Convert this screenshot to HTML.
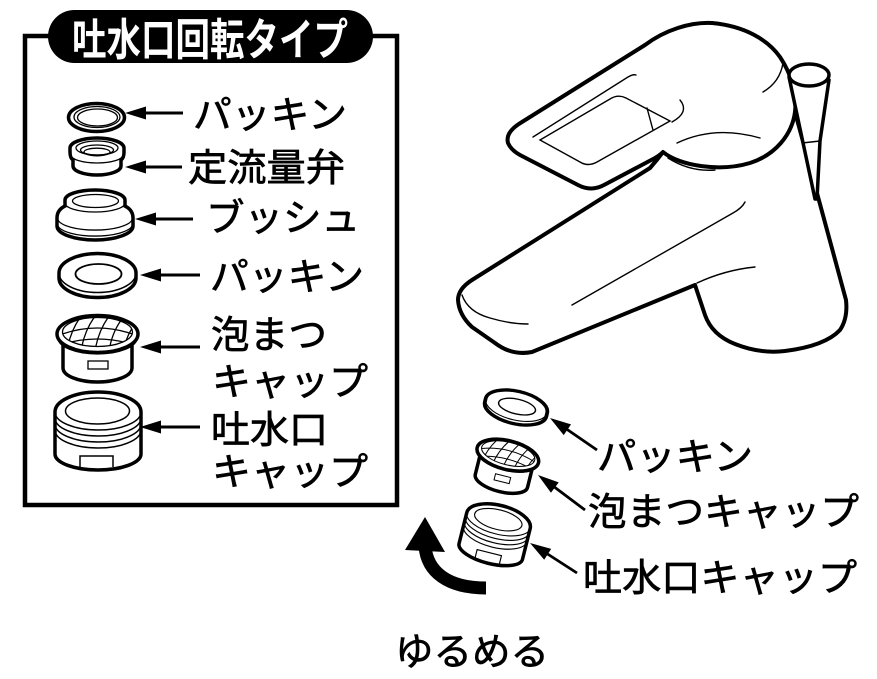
<!DOCTYPE html>
<html><head><meta charset="utf-8"><style>
html,body{margin:0;padding:0;background:#fff}
svg{display:block}
.t{font-family:"Liberation Sans","Noto Sans CJK JP",sans-serif;font-size:38px;font-weight:400;fill:#000;stroke:#000;stroke-width:0.7px}
.ttl{font-family:"Liberation Sans","Noto Sans CJK JP",sans-serif;font-size:44px;font-weight:700;fill:#fff}
</style></head><body>
<svg width="877" height="679" viewBox="0 0 877 679" xmlns="http://www.w3.org/2000/svg">
<defs>
  <clipPath id="meshclip"><ellipse cx="97.5" cy="332" rx="35" ry="14.5"/></clipPath>
  <g id="foam">
    <path d="M63,342 L63,368 A34.5,14 0 0 0 132,368 L132,342" fill="#fff" stroke="#000"/>
    <ellipse cx="97.5" cy="334" rx="40.5" ry="18.5" fill="#fff" stroke="#000"/>
    <path d="M58,338 A39.5,16 0 0 0 137,338" fill="none" stroke="#000" stroke-width="1.3"/>
    <ellipse cx="97.5" cy="332" rx="35" ry="14.5" fill="none" stroke="#000" stroke-width="1.3"/>
    <g clip-path="url(#meshclip)" fill="none" stroke="#000" stroke-width="1.3">
      <path d="M57,326 Q97,308 138,326"/>
      <path d="M57,336 Q97,320 138,336"/>
      <path d="M57,346 Q97,332 138,346"/>
      <path d="M66,360 Q68,330 86,310"/>
      <path d="M80,360 Q82,330 100,310"/>
      <path d="M94,360 Q96,330 114,310"/>
      <path d="M108,360 Q110,330 128,312"/>
      <path d="M122,360 Q124,335 140,318"/>
    </g>
    <rect x="88" y="361" width="20" height="8" fill="none" stroke="#000" stroke-width="1.3"/>
  </g>
  <g id="cap">
    <path d="M55,412 A43,20 0 0 1 141,412 L141,454 A43,16 0 0 1 55,454 Z" fill="#fff" stroke="#000"/>
    <ellipse cx="97.5" cy="411" rx="32" ry="13" fill="none" stroke="#000" stroke-width="1.5"/>
    <g fill="none" stroke="#000" stroke-width="1.5">
      <path d="M55,412 A43,18 0 0 0 141,412"/>
      <path d="M55,418 A43,18 0 0 0 141,418"/>
      <path d="M55,424 A43,18 0 0 0 141,424"/>
      <path d="M55,430 A43,18 0 0 0 141,430"/>
      <path d="M80,467 L80,456 L113,456 L113,467"/>
    </g>
  </g>
  <g id="pack">
    <path d="M59,273 A38.5,19.5 0 0 1 136,273 L136,278 A38.5,19.5 0 0 1 59,278 Z" fill="#fff" stroke="#000"/>
    <path d="M59,273 A38.5,19.5 0 0 0 136,273" fill="none" stroke="#000" stroke-width="1.5"/>
    <ellipse cx="98.5" cy="274" rx="23" ry="10" fill="none" stroke="#000" stroke-width="1.8"/>
  </g>
  <g id="arr">
    <polygon points="0,0 21,-6.5 21,6.5" fill="#000"/>
  </g>
</defs>

<!-- Box -->
<rect x="25" y="36" width="372" height="469" fill="none" stroke="#000" stroke-width="4.5"/>
<rect x="48" y="10" width="325" height="53" rx="26.5" fill="#000"/>
<text class="ttl" x="72" y="55" textLength="276" lengthAdjust="spacingAndGlyphs">吐水口回転タイプ</text>

<!-- Packing 1 -->
<ellipse cx="96.5" cy="117.5" rx="28" ry="14" fill="#fff" stroke="#000" stroke-width="3.5"/>
<ellipse cx="97" cy="117" rx="23" ry="10.5" fill="none" stroke="#000" stroke-width="1.3"/>
<ellipse cx="97.5" cy="117.5" rx="20" ry="8.5" fill="none" stroke="#000" stroke-width="1.3"/>

<!-- 定流量弁 -->
<path d="M70,148 A27,10 0 0 1 124,148 L124,152 Q124,158 121,160 L121,166 A24,9 0 0 1 73,166 L73,160 Q70,158 70,152 Z" fill="#fff" stroke="#000" stroke-width="3.5"/>
<g fill="none" stroke="#000" stroke-width="1.3">
  <ellipse cx="97" cy="148" rx="21" ry="7"/>
  <ellipse cx="97" cy="150" rx="16.5" ry="5"/>
  <ellipse cx="97" cy="152" rx="13" ry="3.8"/>
  <path d="M71,155 A26,8 0 0 0 123,155"/>
</g>

<!-- ブッシュ -->
<path d="M65,200 A30,10 0 0 1 125,200 L125,206 Q133,210 133,218 L133,226 A38,14 0 0 1 57,226 L57,218 Q57,210 65,206 Z" fill="#fff" stroke="#000" stroke-width="3.5"/>
<g fill="none" stroke="#000" stroke-width="1.3">
  <ellipse cx="95.5" cy="201" rx="23" ry="6.5"/>
  <path d="M65,203 A30,9 0 0 0 125,203"/>
  <path d="M58,220 A37.5,12 0 0 0 132,220"/>
  <path d="M58,226 A37.5,12 0 0 0 132,226"/>
</g>

<!-- Packing 2, foam cap, spout cap (left) -->
<use href="#pack" stroke-width="3.5"/>
<use href="#foam" stroke-width="3.5"/>
<use href="#cap" stroke-width="3.5"/>

<!-- Left arrows -->
<g stroke="#000" stroke-width="3">
  <line x1="143" y1="113" x2="183" y2="113"/>
  <line x1="143" y1="167" x2="182" y2="167"/>
  <line x1="153" y1="219" x2="193" y2="219"/>
  <line x1="158" y1="275" x2="200" y2="275"/>
  <line x1="158" y1="347" x2="200" y2="347"/>
  <line x1="158" y1="427" x2="200" y2="427"/>
</g>
<use href="#arr" transform="translate(125,113)"/>
<use href="#arr" transform="translate(125,167)"/>
<use href="#arr" transform="translate(135,219)"/>
<use href="#arr" transform="translate(140,275)"/>
<use href="#arr" transform="translate(140,347)"/>
<use href="#arr" transform="translate(140,427)"/>

<!-- Left labels -->
<text class="t" x="193" y="128" textLength="154" lengthAdjust="spacingAndGlyphs">パッキン</text>
<text class="t" x="188" y="181" textLength="157" lengthAdjust="spacingAndGlyphs">定流量弁</text>
<text class="t" x="206" y="231" textLength="154" lengthAdjust="spacingAndGlyphs">ブッシュ</text>
<text class="t" x="210" y="290" textLength="154" lengthAdjust="spacingAndGlyphs">パッキン</text>
<text class="t" x="211" y="348" textLength="116" lengthAdjust="spacingAndGlyphs">泡まつ</text>
<text class="t" x="212" y="395" textLength="156" lengthAdjust="spacingAndGlyphs">キャップ</text>
<text class="t" x="211" y="443" textLength="117" lengthAdjust="spacingAndGlyphs">吐水口</text>
<text class="t" x="212" y="485" textLength="156" lengthAdjust="spacingAndGlyphs">キャップ</text>

<!-- Faucet: spout + column -->
<path d="M663,152 Q657,160 650,168 L472,280 Q458,289 458,300 Q459,315 472,327 L495,343 Q512,356 532,352 L695,285 L705,315 Q712,335 735,344 Q760,354 785,351 Q825,346 840,330 Q848,318 846,300 L795,112 L663,152 Z" fill="#fff" stroke="#000" stroke-width="4" stroke-linejoin="round"/>
<!-- lever + bulge -->
<path d="M663,152 C680,166 720,172 750,163 C775,155 792,135 795,112 C797,95 792,75 780,57 C768,40 745,26 712,23 C690,22 665,30 645,45 L522,122 Q505,132 508,143 Q511,150 520,155 L578,185 Q591,192 604,185 L655,158 Q660,155 663,152 Z" fill="#fff" stroke="#000" stroke-width="4" stroke-linejoin="round"/>
<!-- thin details -->
<g fill="none" stroke="#000" stroke-width="1.4" stroke-linecap="round">
  <path d="M533,137 L628,77 Q633,74 636,75"/>
  <path d="M540,140 L610,99 Q618,94 626,98 L670,121 L597,162 Q588,167 580,162 Z"/>
  <path d="M647,108 L653,130"/>
  <path d="M680,100 Q690,112 672,122"/>
  <path d="M677,143 Q715,125 760,138"/>
  <path d="M763,92 Q780,82 783,63"/>
  <path d="M668,158 Q690,172 715,170"/>
  <path d="M572,305 L733,213 Q742,208 745,202"/>
  <path d="M697,283 Q725,270 755,267"/>
  <path d="M462,295 Q468,312 490,318 Q510,324 528,324"/>
</g>
<!-- pole -->
<path d="M789,77 L815,199 L817,199 L820,141 L829,80 Z" fill="#fff" stroke="#000" stroke-width="3.5" stroke-linejoin="round"/>
<line x1="802" y1="143" x2="820" y2="141" stroke="#000" stroke-width="1.4"/>
<ellipse cx="809" cy="75" rx="20" ry="11" fill="#fff" stroke="#000" stroke-width="3.5"/>

<!-- Right parts -->
<use href="#pack" stroke-width="4.6" transform="translate(516,407.5) rotate(13) scale(0.82,0.74) translate(-97.5,-275.5)"/>
<use href="#foam" stroke-width="4.5" transform="translate(505,466.5) rotate(14) scale(0.78) translate(-97.5,-349)"/>
<use href="#cap" stroke-width="4.6" transform="translate(495,534.5) rotate(14) scale(0.76) translate(-98,-431)"/>

<!-- Right arrows -->
<g stroke="#000" stroke-width="2.8">
  <line x1="565" y1="428" x2="597" y2="450"/>
  <line x1="553" y1="486" x2="585" y2="510"/>
  <line x1="546" y1="553" x2="577" y2="573"/>
</g>
<use href="#arr" transform="translate(550,418) rotate(34.2)"/>
<use href="#arr" transform="translate(538,475) rotate(36.7)"/>
<use href="#arr" transform="translate(530,543) rotate(32.6)"/>

<text class="t" x="597" y="470" textLength="156" lengthAdjust="spacingAndGlyphs">パッキン</text>
<text class="t" x="588" y="525" textLength="271" lengthAdjust="spacingAndGlyphs">泡まつキャップ</text>
<text class="t" x="583" y="591" textLength="274" lengthAdjust="spacingAndGlyphs">吐水口キャップ</text>

<!-- Curved arrow -->
<polygon points="425,517 405,550 445,552" fill="#000"/>
<path d="M425,546 C427,572 448,588 486,588" fill="none" stroke="#000" stroke-width="13"/>

<text class="t" x="395" y="665" textLength="154" lengthAdjust="spacingAndGlyphs">ゆるめる</text>
</svg>
</body></html>
